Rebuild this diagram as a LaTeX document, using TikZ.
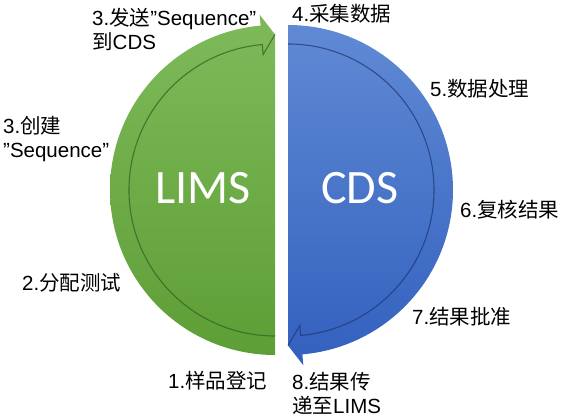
\documentclass[tikz,border=0pt]{standalone}
\usepackage{fontspec}
\setmainfont{Liberation Sans}
\newfontfamily\cjk{Noto Sans CJK SC}
\newfontfamily\bigf{Carlito}
\definecolor{gtop}{RGB}{126,186,90}
\definecolor{gbot}{RGB}{94,158,54}
\definecolor{gline}{RGB}{50,90,30}
\definecolor{btop}{RGB}{96,138,212}
\definecolor{bbot}{RGB}{50,96,190}
\definecolor{bline}{RGB}{30,52,110}
\tikzset{
  lbl/.style={anchor=west,inner sep=0pt,align=left,font=\fontsize{20.5}{24}\selectfont},
  big/.style={text=white,inner sep=0pt,font=\bigf\fontsize{48}{52}\selectfont},
  ringline/.style={line width=1.1pt,opacity=0.7}
}
\begin{document}
\begin{tikzpicture}[x=1pt,y=1pt]
\useasboundingbox (0,0) rectangle (563,419);
\coordinate (G) at (275,229);
\coordinate (B) at (288,229);
% green (LIMS) half with arrow at top
\shade[top color=gtop,bottom color=gbot]
  ([shift={(-90:165)}]G) arc[start angle=-90,end angle=-265,radius=165]
  -- ([shift={(95:176)}]G) -- ([shift={(90:155.5)}]G) -- cycle;
\draw[ringline,draw=gline]
  ([shift={(-90:146)}]G) arc[start angle=-90,end angle=-265,radius=146]
  -- ([shift={(95:136)}]G) -- ([shift={(90:155.5)}]G);
% blue (CDS) half with arrow at bottom
\shade[top color=btop,bottom color=bbot]
  ([shift={(90:165)}]B) arc[start angle=90,end angle=-85,radius=165]
  -- ([shift={(-85:176)}]B) -- ([shift={(-90:155.5)}]B) -- cycle;
\draw[ringline,draw=bline]
  ([shift={(90:146)}]B) arc[start angle=90,end angle=-85,radius=146]
  -- ([shift={(-85:136)}]B) -- ([shift={(-90:155.5)}]B);
% big labels
\node[big] (lims) at (203,231) {LIMS};
\node[big] (cds) at (360,231) {CDS};
% step labels
\node[lbl] (s1) at (168,38) {1.{\cjk 样品登记}};
\node[lbl] (s2) at (22,136) {2.{\cjk 分配测试}};
\node[lbl] (s3a) at (3,280) {3.{\cjk 创建}\\”Sequence”};
\node[lbl] (s3b) at (92,390) {3.{\cjk 发送}”Sequence”\\{\cjk 到}CDS};
\node[lbl] (s4) at (292,405) {4.{\cjk 采集数据}};
\node[lbl] (s5) at (430,330) {5.{\cjk 数据处理}};
\node[lbl] (s6) at (460,209) {6.{\cjk 复核结果}};
\node[lbl] (s7) at (412,102) {7.{\cjk 结果批准}};
\node[lbl] (s8) at (292,26) {8.{\cjk 结果传}\\{\cjk 递至}LIMS};
\end{tikzpicture}
\end{document}
